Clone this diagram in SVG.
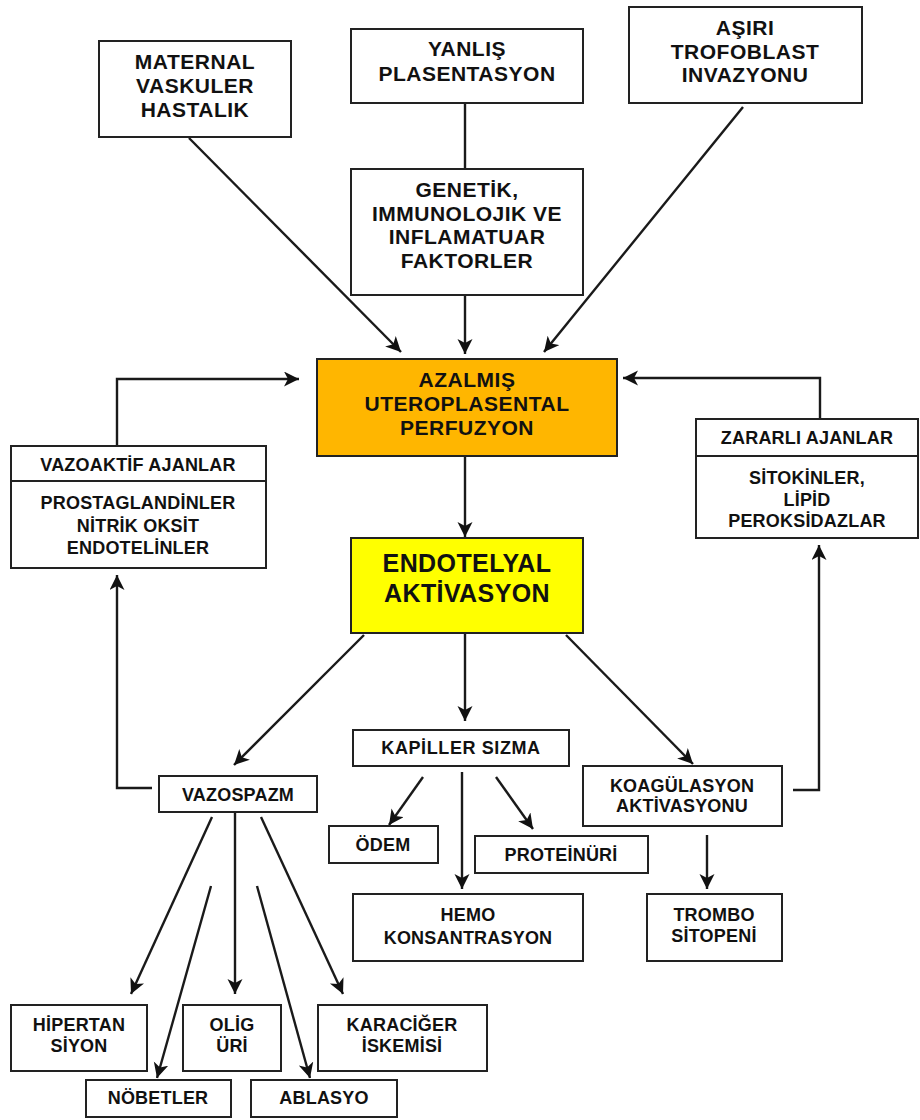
<svg xmlns="http://www.w3.org/2000/svg" width="920" height="1120" viewBox="0 0 920 1120">
<style>
.box{fill:#fff;stroke:#222;stroke-width:2}
.t{font-family:"Liberation Sans",Arial,sans-serif;font-weight:bold;fill:#111;text-anchor:middle}
.big{font-size:21px;letter-spacing:0.5px}
.sm{font-size:18px;letter-spacing:0.2px}
.huge{font-size:25px;letter-spacing:0.4px}
.c{fill:none;stroke:#1a1a1a;stroke-width:2.4}
</style>
<defs>
<marker id="ah" markerUnits="userSpaceOnUse" markerWidth="18" markerHeight="18" refX="15" refY="7.5" orient="auto">
<path d="M0,0 L15,7.5 L0,15 L4,7.5 z" fill="#111"/>
</marker>
</defs>
<rect width="920" height="1120" fill="#fff"/>
<g id="connectors">
<line class="c" x1="189" y1="138" x2="401" y2="352" marker-end="url(#ah)"/>
<line class="c" x1="465" y1="104" x2="465" y2="169"/>
<line class="c" x1="465" y1="295" x2="465" y2="354" marker-end="url(#ah)"/>
<line class="c" x1="743" y1="107" x2="544" y2="352" marker-end="url(#ah)"/>
<line class="c" x1="465" y1="456" x2="465" y2="537" marker-end="url(#ah)"/>
<polyline class="c" points="117,446 117,379 299,379" marker-end="url(#ah)"/>
<polyline class="c" points="820,419 820,378 623,378" marker-end="url(#ah)"/>
<polyline class="c" points="152,788 117,788 117,575" marker-end="url(#ah)"/>
<polyline class="c" points="793,790 819,790 819,545" marker-end="url(#ah)"/>
<line class="c" x1="364" y1="635" x2="234" y2="765" marker-end="url(#ah)"/>
<line class="c" x1="465" y1="633" x2="465" y2="721" marker-end="url(#ah)"/>
<line class="c" x1="566" y1="635" x2="693" y2="764" marker-end="url(#ah)"/>
<line class="c" x1="423" y1="777" x2="389" y2="825" marker-end="url(#ah)"/>
<line class="c" x1="462" y1="772" x2="462" y2="889" marker-end="url(#ah)"/>
<line class="c" x1="496" y1="777" x2="533" y2="829" marker-end="url(#ah)"/>
<line class="c" x1="707" y1="835" x2="707" y2="889" marker-end="url(#ah)"/>
<line class="c" x1="212" y1="817" x2="131" y2="994" marker-end="url(#ah)"/>
<line class="c" x1="235" y1="813" x2="235" y2="994" marker-end="url(#ah)"/>
<line class="c" x1="261" y1="817" x2="343" y2="994" marker-end="url(#ah)"/>
<line class="c" x1="211" y1="886" x2="157" y2="1078" marker-end="url(#ah)"/>
<line class="c" x1="257" y1="886" x2="310" y2="1078" marker-end="url(#ah)"/>
</g>
<g id="n_maternal">
<rect class="box" x="99" y="41" width="192" height="96"/>
<text class="t big" x="195" y="69">MATERNAL</text>
<text class="t big" x="195" y="93">VASKULER</text>
<text class="t big" x="195" y="117">HASTALIK</text>
</g>
<g id="n_yanlis">
<rect class="box" x="351" y="29" width="232" height="74"/>
<text class="t big" x="467" y="56">YANLIŞ</text>
<text class="t big" x="467" y="81">PLASENTASYON</text>
</g>
<g id="n_asiri">
<rect class="box" x="629" y="7" width="233" height="96"/>
<text class="t big" x="745" y="35">AŞIRI</text>
<text class="t big" x="745" y="59">TROFOBLAST</text>
<text class="t big" x="745" y="82">INVAZYONU</text>
</g>
<g id="n_genetik">
<rect class="box" x="351" y="169" width="232" height="126"/>
<text class="t big" x="467" y="197">GENETİK,</text>
<text class="t big" x="467" y="221">IMMUNOLOJIK VE</text>
<text class="t big" x="467" y="244">INFLAMATUAR</text>
<text class="t big" x="467" y="268">FAKTORLER</text>
</g>
<g id="n_azalmis">
<rect class="box" x="317" y="359" width="300" height="97" style="fill:#FFB600"/>
<text class="t big" x="467" y="387">AZALMIŞ</text>
<text class="t big" x="467" y="411">UTEROPLASENTAL</text>
<text class="t big" x="467" y="435">PERFUZYON</text>
</g>
<g id="n_endotelyal">
<rect class="box" x="351" y="538" width="232" height="95" style="fill:#FFFF00"/>
<text class="t huge" x="467" y="572">ENDOTELYAL</text>
<text class="t huge" x="467" y="602">AKTİVASYON</text>
</g>
<g id="n_vazoaktif">
<rect class="box" x="11" y="446" width="255" height="122"/>
<line class="box" x1="11" y1="481" x2="266" y2="481"/>
<text class="t sm" x="138" y="471">VAZOAKTİF AJANLAR</text>
<text class="t sm" x="138" y="509">PROSTAGLANDİNLER</text>
<text class="t sm" x="138" y="532">NİTRİK OKSİT</text>
<text class="t sm" x="138" y="554">ENDOTELİNLER</text>
</g>
<g id="n_zararli">
<rect class="box" x="696" y="419" width="222" height="119"/>
<line class="box" x1="696" y1="456" x2="918" y2="456"/>
<text class="t sm" x="807" y="444">ZARARLI AJANLAR</text>
<text class="t sm" x="807" y="484">SİTOKİNLER,</text>
<text class="t sm" x="807" y="506">LİPİD</text>
<text class="t sm" x="807" y="527">PEROKSİDAZLAR</text>
</g>
<g id="n_vazospazm">
<rect class="box" x="159" y="776" width="158" height="36"/>
<text class="t sm" x="238" y="801">VAZOSPAZM</text>
</g>
<g id="n_kapiller">
<rect class="box" x="353" y="730" width="216" height="36"/>
<text class="t sm" x="461" y="754" style="letter-spacing:0.6px">KAPİLLER SIZMA</text>
</g>
<g id="n_koagulasyon">
<rect class="box" x="583" y="766" width="199" height="60"/>
<text class="t sm" x="682" y="792">KOAGÜLASYON</text>
<text class="t sm" x="682" y="812">AKTİVASYONU</text>
</g>
<g id="n_odem">
<rect class="box" x="329" y="826" width="109" height="37"/>
<text class="t sm" x="383" y="851">ÖDEM</text>
</g>
<g id="n_proteinuri">
<rect class="box" x="475" y="836" width="173" height="37"/>
<text class="t sm" x="561" y="861">PROTEİNÜRİ</text>
</g>
<g id="n_hemo">
<rect class="box" x="353" y="894" width="230" height="67"/>
<text class="t sm" x="468" y="921">HEMO</text>
<text class="t sm" x="468" y="944">KONSANTRASYON</text>
</g>
<g id="n_trombo">
<rect class="box" x="647" y="894" width="135" height="67"/>
<text class="t sm" x="714" y="921">TROMBO</text>
<text class="t sm" x="714" y="942">SİTOPENİ</text>
</g>
<g id="n_hipertan">
<rect class="box" x="11" y="1005" width="136" height="66"/>
<text class="t sm" x="79" y="1031">HİPERTAN</text>
<text class="t sm" x="79" y="1052">SİYON</text>
</g>
<g id="n_olig">
<rect class="box" x="183" y="1005" width="98" height="66"/>
<text class="t sm" x="232" y="1031">OLİG</text>
<text class="t sm" x="232" y="1052">ÜRİ</text>
</g>
<g id="n_karaciger">
<rect class="box" x="318" y="1005" width="169" height="66"/>
<text class="t sm" x="402" y="1031">KARACİĞER</text>
<text class="t sm" x="402" y="1052">İSKEMİSİ</text>
</g>
<g id="n_nobetler">
<rect class="box" x="86" y="1080" width="145" height="37"/>
<text class="t sm" x="158" y="1104">NÖBETLER</text>
</g>
<g id="n_ablasyo">
<rect class="box" x="251" y="1080" width="146" height="37"/>
<text class="t sm" x="324" y="1104">ABLASYO</text>
</g>
</svg>
